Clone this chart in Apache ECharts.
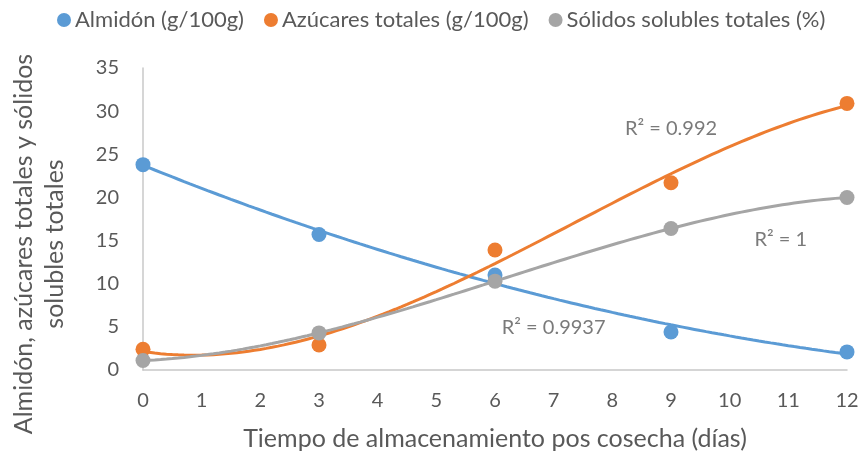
<!DOCTYPE html>
<html>
<head>
<meta charset="utf-8">
<script src="https://cdn.jsdelivr.net/npm/echarts@6/dist/echarts.min.js"></script>
<style>
html,body{margin:0;padding:0;background:#fff;}
#chart{width:863px;height:457px;}
</style>
</head>
<body>
<div id="chart"></div>
<script>
// Storage time (days) and measured values
const days = [0, 3, 6, 9, 12];
const almidon = [23.8, 15.7, 11.0, 4.4, 2.1];
const azucares = [2.4, 2.9, 13.9, 21.7, 30.9];
const solidos = [1.1, 4.3, 10.3, 16.4, 20.0];

const seriesNames = ['Almidón (g/100g)', 'Azúcares totales (g/100g)', 'Sólidos solubles totales (%)'];
const seriesColors = ['#5B9BD5', '#ED7D31', '#A5A5A5'];
const trendOrders = [2, 3, 3];
const r2Labels = ['R² = 0.9937', 'R² = 0.992', 'R² = 1'];
const r2Anchors = [[7.0, 4.9], [9.0, 28.0], [10.87, 15.1]];

const xTicks = [0,1,2,3,4,5,6,7,8,9,10,11,12];
const yTicks = [0,5,10,15,20,25,30,35];

// Least-squares polynomial fit (normal equations, Gaussian elimination)
function polyFit(xs, ys, order) {
  const n = order + 1;
  const A = [];
  for (let i = 0; i < n; i++) {
    A.push(new Array(n + 1).fill(0));
    for (let j = 0; j < n; j++) {
      let s = 0;
      for (let k = 0; k < xs.length; k++) s += Math.pow(xs[k], i + j);
      A[i][j] = s;
    }
    let s = 0;
    for (let k = 0; k < xs.length; k++) s += ys[k] * Math.pow(xs[k], i);
    A[i][n] = s;
  }
  for (let c = 0; c < n; c++) {
    let p = c;
    for (let r = c + 1; r < n; r++) if (Math.abs(A[r][c]) > Math.abs(A[p][c])) p = r;
    [A[c], A[p]] = [A[p], A[c]];
    for (let r = 0; r < n; r++) {
      if (r === c) continue;
      const f = A[r][c] / A[c][c];
      for (let k = c; k <= n; k++) A[r][k] -= f * A[c][k];
    }
  }
  return A.map((row, i) => row[n] / row[i]);
}
function trendPoints(xs, ys, order) {
  const coef = polyFit(xs, ys, order);
  const pts = [];
  for (let i = 0; i <= 120; i++) {
    const x = i / 10;
    let y = 0;
    coef.forEach((c, k) => { y += c * Math.pow(x, k); });
    pts.push([x, y]);
  }
  return pts;
}

const values = [almidon, azucares, solidos];
const font = 'Lato, "Liberation Sans", sans-serif';
const textColor = '#595959';
const series = [];
values.forEach((vals, i) => {
  series.push({
    name: seriesNames[i] + ' trend',
    type: 'line',
    data: trendPoints(days, vals, trendOrders[i]),
    showSymbol: false,
    symbol: 'none',
    lineStyle: { color: seriesColors[i], width: 3 },
    silent: true,
    z: 2
  });
});
values.forEach((vals, i) => {
  series.push({
    name: seriesNames[i],
    type: 'scatter',
    data: days.map((d, k) => [d, vals[k]]),
    symbol: 'circle',
    symbolSize: 15,
    itemStyle: { color: seriesColors[i], opacity: 1 },
    z: 3
  });
});
// R² annotations anchored in data space
series.push({
  type: 'scatter',
  name: 'r2',
  data: r2Anchors.map((p, i) => ({ value: p, label: { formatter: r2Labels[i] } })),
  symbolSize: 0,
  silent: true,
  label: {
    show: true, position: 'inside', color: textColor, fontSize: 20, fontFamily: font
  },
  z: 4
});

const chart = echarts.init(document.getElementById('chart'));
chart.setOption({
  animation: false,
  backgroundColor: '#fff',
  legend: {
    data: seriesNames,
    top: 4,
    left: 52,
    icon: 'circle',
    itemWidth: 14,
    itemHeight: 14,
    itemGap: 20,
    textStyle: { color: textColor, fontSize: 22, fontFamily: font, padding: [0, 0, 0, -1] }
  },
  grid: { left: 143, right: 16, top: 68, bottom: 87 },
  xAxis: {
    type: 'value',
    min: 0, max: 12, interval: 1,
    axisLine: { show: true, lineStyle: { color: '#C8C8C8', width: 1.5 } },
    axisTick: { show: false },
    splitLine: { show: false },
    axisLabel: { color: textColor, fontSize: 20, fontFamily: font, margin: 21 },
    name: 'Tiempo de almacenamiento pos cosecha (días)',
    nameLocation: 'middle',
    nameGap: 56,
    nameTextStyle: { color: textColor, fontSize: 25, fontFamily: font }
  },
  yAxis: {
    type: 'value',
    min: 0, max: 35, interval: 5,
    axisLine: { show: true, lineStyle: { color: '#C8C8C8', width: 1.5 } },
    axisTick: { show: false },
    splitLine: { show: false },
    axisLabel: { color: textColor, fontSize: 20, fontFamily: font, margin: 24 }
  },
  graphic: [{
    type: 'text',
    x: 39, y: 244,
    rotation: Math.PI / 2,
    style: {
      text: 'Almidón, azúcares totales y sólidos\nsolubles totales',
      fill: textColor, fontSize: 25, fontFamily: font,
      align: 'center', verticalAlign: 'middle', lineHeight: 31
    }
  }],
  series: series
});
</script>
</body>
</html>
